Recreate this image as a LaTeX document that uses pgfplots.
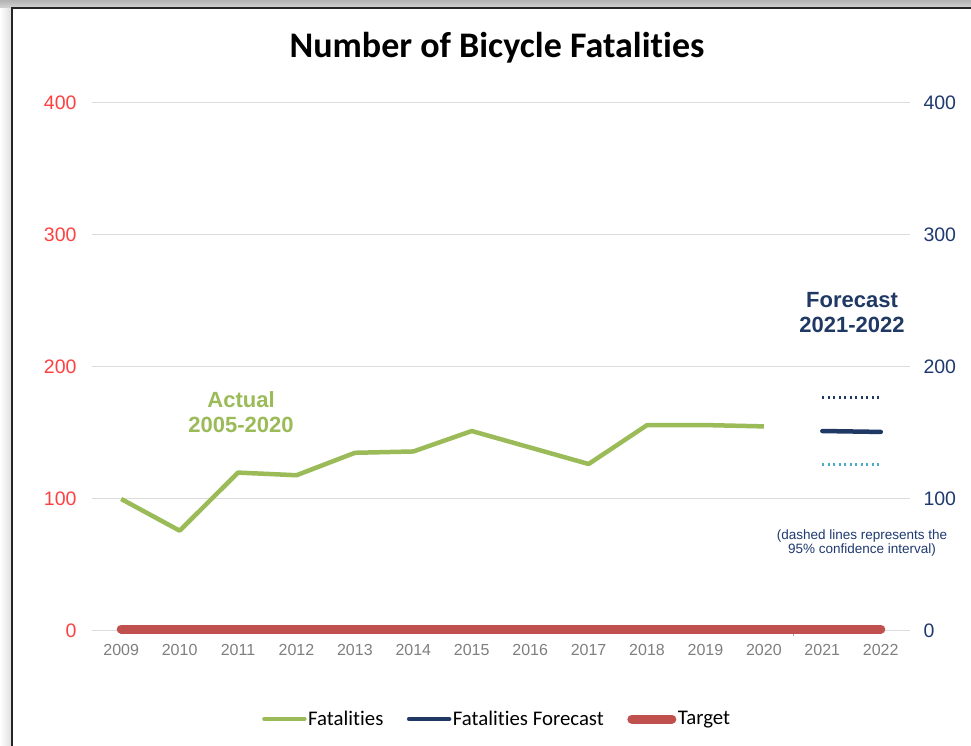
\documentclass[border=0pt]{standalone}
\usepackage{pgfplots}
\pgfplotsset{compat=1.18}
\usepackage{fontspec}
\setmainfont{Liberation Sans}
\newfontfamily\calibri[Ligatures=NoCommon]{Carlito}
\definecolor{fgreen}{HTML}{9BBB59}
\definecolor{fnavy}{HTML}{1F3864}
\definecolor{rnavy}{HTML}{1F3A70}
\definecolor{fteal}{HTML}{4BACC6}
\definecolor{fred}{HTML}{C0504D}
\definecolor{tred}{HTML}{FF4040}
\definecolor{tgrey}{HTML}{7F7F7F}
\definecolor{gridc}{HTML}{DCDCDC}

\pgfplotstableread{
year val
2009 100
2010 76
2011 120
2012 118
2013 135
2014 136
2015 151.5
2016 139
2017 126.5
2018 156
2019 156
2020 155
}\actual

\begin{document}
\begin{tikzpicture}[x=1pt,y=1pt]
\useasboundingbox (0,0) rectangle (971,746);
% frame with shadow
\shade[top color=gray!60, bottom color=gray!30] (0,737) rectangle (971,746);
\shade[left color=white, right color=gray!25] (0,0) rectangle (11,737);
\fill[white] (11.5,0) rectangle (971,737.5);
\draw[black!85, line width=2pt] (11.5,-2) -- (11.5,737.5) -- (975,737.5);

\begin{axis}[
    at={(92pt,115pt)}, anchor=south west,
    scale only axis, width=818pt, height=528pt,
    xmin=2008.5, xmax=2022.5, ymin=0, ymax=400,
    clip=false,
    axis x line*=bottom, axis y line*=left,
    y axis line style={draw=none},
    x axis line style={draw=gridc, line width=1pt, -},
    xtick={2009,...,2022},
    ytick={0,100,...,400},
    major tick length=0pt,
    extra x ticks={2020.5}, extra x tick labels={},
    extra x tick style={tick align=outside, major tick length=5pt, tick style={draw=tgrey!70, line width=0.8pt}, grid=none},
    ymajorgrids, grid style={draw=gridc, line width=1pt},
    /pgf/number format/assume math mode=true,
    /pgf/number format/1000 sep={},
    xticklabel style={font=\fontsize{16}{17}\selectfont, text=tgrey, yshift=-10pt},
    yticklabel style={font=\fontsize{19.5}{20}\selectfont, text=tred, xshift=-12pt},
    legend style={at={(0.495,-0.1667)}, anchor=center, draw=none, fill=none,
        font=\calibri\fontsize{20.8}{22}\selectfont, legend columns=3,
        /tikz/every even column/.append style={column sep=22pt},
        nodes={inner sep=1.5pt}},
    legend image code/.code={\draw[#1, line cap=round] (0pt,0pt) -- (40pt,0pt);},
]
\addplot[fgreen, line width=4.5pt, line join=round] table[x=year, y=val] {\actual};
\addlegendentry{Fatalities}
\addplot[fnavy, line width=4.5pt, line cap=round] coordinates {(2021,151.5) (2022,150.8)};
\addlegendentry{Fatalities Forecast}
\addplot[fred, line width=9pt, line cap=round] coordinates {(2009,1.5) (2022,1.5)};
\addlegendentry{Target}
\addplot[fnavy, line width=2.5pt, dash pattern=on 2pt off 3.5pt, forget plot] coordinates {(2021,177) (2022,177)};
\addplot[fteal, line width=2.5pt, dash pattern=on 2pt off 3.5pt, forget plot] coordinates {(2021,126) (2022,126)};
\end{axis}

\begin{axis}[
    at={(92pt,115pt)}, anchor=south west,
    scale only axis, width=818pt, height=528pt,
    xmin=2008.5, xmax=2022.5, ymin=0, ymax=400,
    axis x line=none, axis y line*=right,
    y axis line style={draw=none},
    ytick={0,100,...,400},
    major tick length=0pt,
    /pgf/number format/assume math mode=true,
    yticklabel style={font=\fontsize{19.5}{20}\selectfont, text=rnavy, xshift=10pt},
]
\end{axis}

\node[font=\calibri\bfseries\fontsize{36}{40}\selectfont] at (497,698) {Number of Bicycle Fatalities};
\node[font=\bfseries\fontsize{22}{25}\selectfont, text=fgreen, align=center] at (241,334) {Actual\\2005-2020};
\node[font=\bfseries\fontsize{22}{25}\selectfont, text=fnavy, align=center] at (852,433) {Forecast\\2021-2022};
\node[font=\fontsize{13.5}{14.5}\selectfont, text=rnavy, align=center] at (862,203) {(dashed lines represents the\\95\% confidence interval)};
\end{tikzpicture}
\end{document}
